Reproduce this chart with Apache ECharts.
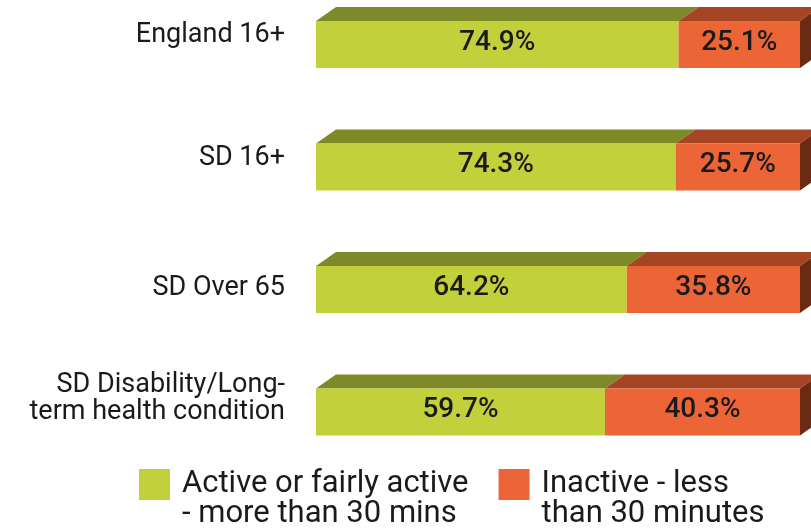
<!DOCTYPE html>
<html><head><meta charset="utf-8">
<script src="https://cdn.jsdelivr.net/npm/echarts@6/dist/echarts.min.js"></script>
<style>html,body{margin:0;padding:0;background:#fff}#c{width:811px;height:529px}</style>
</head><body><div id="c"></div>
<script>
const categories = ['England 16+', 'SD 16+', 'SD Over 65', 'SD Disability/Long-\nterm health condition'];
const activeValues = [74.9, 74.3, 64.2, 59.7];
const inactiveValues = [25.1, 25.7, 35.8, 40.3];
const seriesNames = ['Active or fairly active\n- more than 30 mins', 'Inactive - less\nthan 30 minutes'];

const FONT = 'Roboto';
const BAR_H = 47, DX = 20, DY = 14;
const colors = {
  active: {front: '#C2D03C', top: '#7E8A28', side: '#5E6A1C'},
  inactive: {front: '#EB6536', top: '#A64524', side: '#6B2A14'}
};

function makeRender(col, drawSide) {
  return function (params, api) {
    const s = api.value(0), e = api.value(1), cat = api.value(2);
    const p0 = api.coord([s, cat]);
    const p1 = api.coord([e, cat]);
    const x0 = p0[0], x1 = p1[0];
    const yT = p0[1] - BAR_H / 2, yB = yT + BAR_H;
    const children = [
      {type: 'polygon', shape: {points: [[x0, yT], [x1, yT], [x1 + DX, yT - DY], [x0 + DX, yT - DY]]},
       style: {fill: col.top}},
      {type: 'rect', shape: {x: x0, y: yT, width: x1 - x0, height: BAR_H}, style: {fill: col.front}}
    ];
    if (drawSide) {
      children.push({type: 'polygon', shape: {points: [[x1, yT], [x1 + DX, yT - DY], [x1 + DX, yB - DY], [x1, yB]]},
        style: {fill: col.side}});
    }
    children.push({type: 'text', style: {text: (e - s).toFixed(1) + '%', x: (x0 + x1) / 2, y: p0[1] - 2,
      align: 'center', verticalAlign: 'middle', fontFamily: FONT, fontSize: 28, fontWeight: 500, fill: '#1a1a1a'}});
    return {type: 'group', children: children};
  };
}

const activeData = categories.map((c, i) => [0, activeValues[i], i]);
const inactiveData = categories.map((c, i) => [activeValues[i], activeValues[i] + inactiveValues[i], i]);

const labelStyles = ['a', 'b', 'c'];
const LBL = {fontFamily: FONT, fontSize: 27, color: '#1a1a1a'};
const chart = echarts.init(document.getElementById('c'));
chart.setOption({
  animation: false,
  grid: {left: 316, right: 11, top: 44.5, height: 367.5},
  xAxis: {type: 'value', min: 0, max: 100, show: false},
  yAxis: {
    type: 'category', data: categories, inverse: true, boundaryGap: false,
    axisLine: {show: false}, axisTick: {show: false}, splitLine: {show: false},
    axisLabel: {
      margin: 31, align: 'right', interval: 0,
      formatter: function (v, i) {
        if (i < 3) return '{' + labelStyles[i] + '|' + v + '}';
        const parts = v.split('\n');
        return '{d|' + parts[0] + '}\n{d|' + parts[1] + '}\n{s| }';
      },
      rich: {
        a: Object.assign({padding: [0, 0, 18, 0]}, LBL),
        b: Object.assign({padding: [0, 0, 18, 0]}, LBL),
        c: Object.assign({padding: [0, 0, 2, 0]}, LBL),
        d: Object.assign({lineHeight: 27}, LBL),
        s: {fontSize: 2, lineHeight: 27}
      }
    }
  },
  legend: {
    left: 134, top: 448.5, itemWidth: 31, itemHeight: 31, itemGap: 30, icon: 'rect',
    data: seriesNames,
    formatter: function (name) {
      const parts = name.split('\n');
      return '{s| }\n{t|' + parts[0] + '}\n{t|' + parts[1] + '}';
    },
    textStyle: {
      rich: {
        s: {fontSize: 2, lineHeight: 30},
        t: {fontFamily: FONT, fontSize: 31, lineHeight: 30, color: '#1a1a1a', padding: [0, 0, 0, 7]}
      }
    }
  },
  series: [
    {name: seriesNames[0], type: 'custom', data: activeData, encode: {x: [0, 1], y: 2},
     itemStyle: {color: colors.active.front}, renderItem: makeRender(colors.active, false)},
    {name: seriesNames[1], type: 'custom', data: inactiveData, encode: {x: [0, 1], y: 2},
     itemStyle: {color: colors.inactive.front}, renderItem: makeRender(colors.inactive, true)}
  ]
});
</script></body></html>
